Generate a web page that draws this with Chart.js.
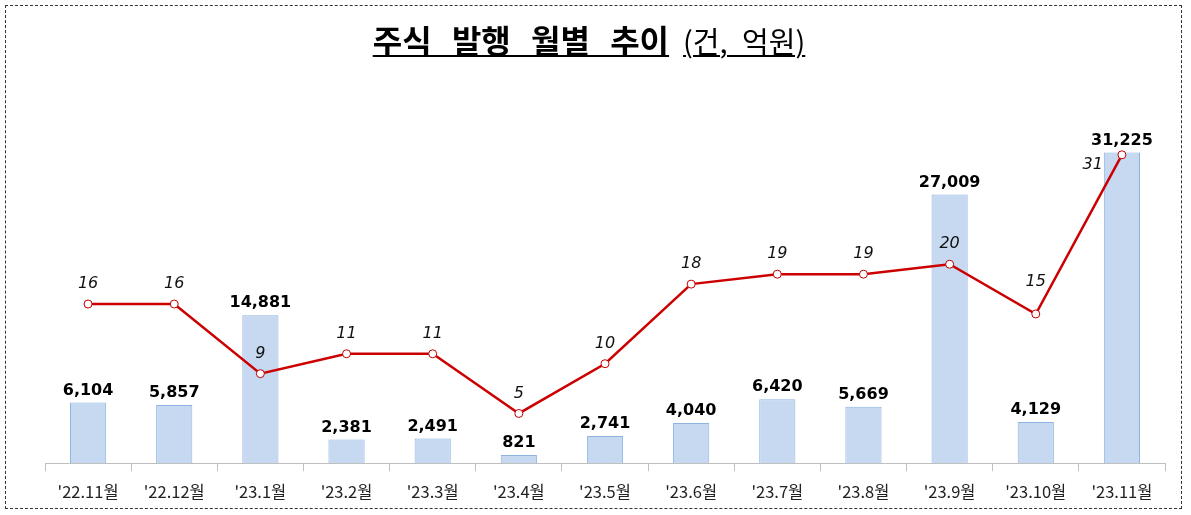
<!DOCTYPE html>
<html>
<head>
<meta charset="utf-8">
<script src="https://cdn.jsdelivr.net/npm/chart.js@4/dist/chart.umd.min.js"></script>
<style>
  body { margin: 0; background: #fff; }
  #wrap { position: relative; width: 1191px; height: 515px; }
  #frame {
    position: absolute; left: 5px; top: 5px; width: 1177px; height: 504px;
    box-sizing: border-box; border: 1px dashed #333;
  }
  #title {
    position: absolute; left: 0; top: 19px; width: 1178px; text-align: center;
    font-family: "Noto Sans CJK KR", sans-serif; font-size: 32px; line-height: 40px;
    color: #000;
  }
  #title span.u { text-decoration: underline; text-decoration-thickness: 2px; text-underline-offset: 2px; }
  #title b { font-weight: 700; word-spacing: 13px; }
  #title .unit { font-size: 29px; word-spacing: 8px; margin-left: 14px; }
  canvas { position: absolute; left: 0; top: 0; }
</style>
</head>
<body>
<div id="wrap">
  <canvas id="chart" width="1191" height="515"></canvas>
  <div id="frame"></div>
  <div id="title"><span class="u"><b>주식 발행 월별 추이</b><span class="unit">(건, 억원)</span></span></div>
</div>
<script>
// months, counts (건), amounts (억원)
var months = ["'22.11월", "'22.12월", "'23.1월", "'23.2월", "'23.3월", "'23.4월", "'23.5월",
              "'23.6월", "'23.7월", "'23.8월", "'23.9월", "'23.10월", "'23.11월"];
var amounts = [6104, 5857, 14881, 2381, 2491, 821, 2741, 4040, 6420, 5669, 27009, 4129, 31225];
var counts = [16, 16, 9, 11, 11, 5, 10, 18, 19, 19, 20, 15, 31];

var labelPlugin = {
    id: 'valueLabels',
    afterDatasetsDraw(chart) {
        var ctx = chart.ctx;
        ctx.save();
        // bar labels
        var barMeta = chart.getDatasetMeta(0);
        ctx.font = 'bold 16px "DejaVu Sans", sans-serif';
        ctx.fillStyle = '#000';
        ctx.textAlign = 'center';
        ctx.textBaseline = 'bottom';
        barMeta.data.forEach(function (bar, i) {
            ctx.fillText(amounts[i].toLocaleString('en-US'), bar.x, bar.y - 4);
        });
        // line labels
        var lineMeta = chart.getDatasetMeta(1);
        ctx.font = 'italic 16px "DejaVu Sans", sans-serif';
        ctx.fillStyle = '#111';
        lineMeta.data.forEach(function (pt, i) {
            if (i === counts.length - 1) {
                ctx.textAlign = 'right';
                ctx.textBaseline = 'middle';
                ctx.fillText(counts[i], pt.x - 19, pt.y + 10);
            } else {
                ctx.textAlign = 'center';
                ctx.textBaseline = 'middle';
                ctx.fillText(counts[i], pt.x, pt.y - (i === 11 ? 32 : 20));
            }
        });
        ctx.restore();
    }
};

new Chart(document.getElementById('chart'), {
    data: {
        labels: months,
        datasets: [{
            type: 'bar',
            data: amounts,
            yAxisID: 'y',
            backgroundColor: '#c6d9f1',
            borderColor: '#8db3e2',
            borderWidth: 1,
            categoryPercentage: 1,
            barPercentage: 0.42,
            order: 2
        }, {
            type: 'line',
            data: counts,
            yAxisID: 'y1',
            borderColor: '#cc0000',
            borderWidth: 2.5,
            pointRadius: 4,
            pointBorderWidth: 1,
            pointBackgroundColor: '#fff',
            pointBorderColor: '#c00000',
            tension: 0,
            order: 1
        }]
    },
    options: {
        responsive: false,
        animation: false,
        layout: { padding: { left: 45, right: 26, top: 115, bottom: 2 } },
        plugins: { legend: { display: false }, tooltip: { enabled: false } },
        scales: {
            x: {
                offset: true,
                grid: { offset: true, drawOnChartArea: false, tickLength: 8, color: '#bfbfbf' },
                border: { color: '#bfbfbf' },
                ticks: {
                    padding: 11,
                    color: '#222',
                    font: { family: '"Noto Sans CJK KR", sans-serif', size: 16.5 }
                }
            },
            y: { display: false, min: 0, max: 35000 },
            y1: { display: false, min: 0, max: 35 }
        }
    },
    plugins: [labelPlugin]
});
</script>
</body>
</html>
